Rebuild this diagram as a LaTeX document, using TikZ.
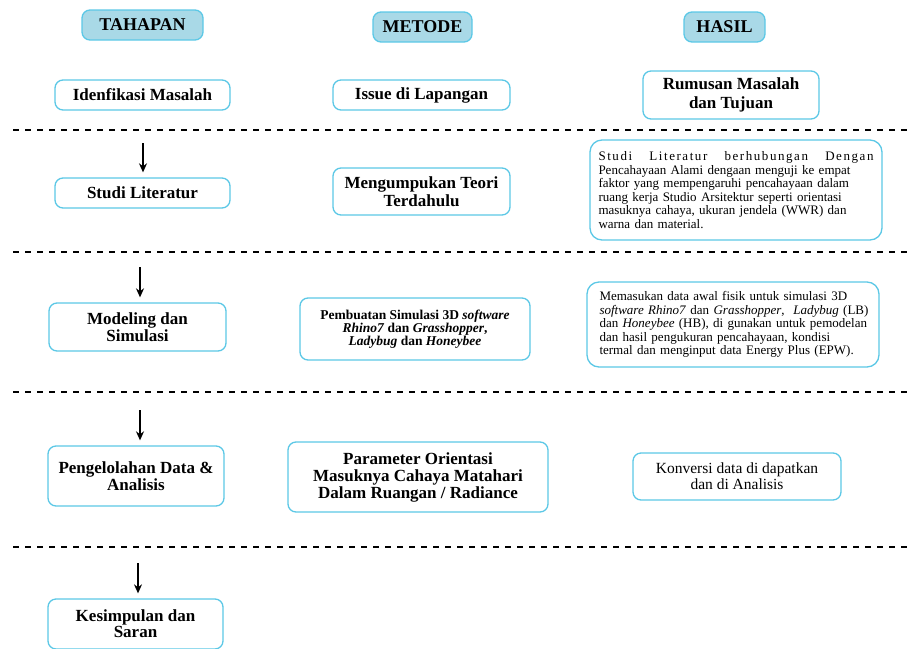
\documentclass[tikz,border=0pt]{standalone}
\usepackage{fontspec}
\setmainfont{Liberation Serif}
\usetikzlibrary{arrows.meta}
\definecolor{bord}{HTML}{5CC8E6}
\definecolor{headfill}{HTML}{A9D9E7}
\newcommand{\jline}[2]{\makebox[#1][s]{#2}}
\begin{document}
\begin{tikzpicture}[x=1pt,y=-1pt,
 box/.style={draw=bord, line width=1.3pt, rounded corners=8pt, fill=white, align=center, inner sep=0pt, font=\bfseries\fontsize{17}{17.5}\selectfont},
 head/.style={box, fill=headfill, font=\bfseries\fontsize{18}{20}\selectfont},
 txtbox/.style={draw=bord, line width=1.3pt, rounded corners=12pt, fill=white, align=left, inner ysep=0pt, font=\fontsize{13}{13.6}\selectfont},
 sepline/.style={dash pattern=on 6pt off 6pt, line width=1.8pt},
 arr/.style={-{Stealth[length=9pt,width=8pt]}, line width=1.3pt, shorten >=5pt},
]
\useasboundingbox (0,0) rectangle (907,648);
% headers
\node[head, minimum width=121, minimum height=30] (h1) at (142.5,25) {TAHAPAN};
\node[head, minimum width=99, minimum height=30] (h2) at (422.5,27) {METODE};
\node[head, minimum width=81, minimum height=30] (h3) at (724.5,27) {HASIL};
% row 1
\node[box, minimum width=175, minimum height=30] (n11) at (142.5,95) {Idenfikasi Masalah};
\node[box, minimum width=177, minimum height=30] (n12) at (421.5,95) {Issue di Lapangan};
\node[box, minimum width=176, minimum height=48, font=\bfseries\fontsize{17}{18.5}\selectfont] (n13) at (731,95) {Rumusan Masalah\\dan Tujuan};
\coordinate (s1a) at (13,130); \coordinate (s1b) at (907,130);
\draw[sepline] (s1a) -- (s1b);
% row 2
\node[box, minimum width=175, minimum height=30] (n21) at (142.5,193) {Studi Literatur};
\node[box, minimum width=177, minimum height=47] (n22) at (421.5,191.5) {Mengumpukan Teori\\Terdahulu};
\node[txtbox, text width=275pt, inner xsep=8.5pt, minimum height=100] (n23) at (736,190) {%
\jline{275pt}{\addfontfeatures{LetterSpace=12}Studi\hfill Literatur\hfill berhubungan\hfill Dengan}\\
\jline{275pt}{Pencahayaan Alami dengaan menguji ke empat}\\
\jline{275pt}{faktor yang mempengaruhi pencahayaan dalam}\\
\jline{275pt}{ruang kerja Studio Arsitektur seperti orientasi}\\
\jline{275pt}{masuknya cahaya, ukuran jendela (WWR) dan}\\
warna dan material.};
\coordinate (a1) at (143,143);
\draw[arr] (a1) -- (a1 |- n21.north);
\coordinate (s2a) at (13,252); \coordinate (s2b) at (907,252);
\draw[sepline] (s2a) -- (s2b);
% row 3
\node[box, minimum width=177, minimum height=48] (n31) at (137.5,327) {Modeling dan\\Simulasi};
\node[box, minimum width=230, minimum height=62, font=\bfseries\fontsize{13.5}{13}\selectfont] (n32) at (415,329) {Pembuatan Simulasi 3D \textit{software}\\\textit{Rhino7} dan \textit{Grasshopper},\\\textit{Ladybug} dan \textit{Honeybee}};
\node[txtbox, text width=267pt, inner xsep=12.5pt, minimum height=85] (n33) at (733,324.5) {%
\jline{267pt}{Memasukan data awal fisik untuk simulasi 3D}\\
\jline{267pt}{\textit{software Rhino7} dan \textit{Grasshopper}, \ \textit{Ladybug} (LB)}\\
\jline{267pt}{dan \textit{Honeybee} (HB), di gunakan untuk pemodelan}\\
\jline{267pt}{dan hasil pengukuran pencahayaan, kondisi}\\
termal dan menginput data Energy Plus (EPW).};
\coordinate (a2) at (140,267);
\draw[arr] (a2) -- (a2 |- n31.north);
\coordinate (s3a) at (13,392); \coordinate (s3b) at (907,392);
\draw[sepline] (s3a) -- (s3b);
% row 4
\node[box, minimum width=176, minimum height=60, font=\bfseries\fontsize{17}{16.5}\selectfont] (n41) at (136,476) {Pengelolahan Data \&\\Analisis};
\node[box, minimum width=260, minimum height=70, font=\bfseries\fontsize{17}{17}\selectfont] (n42) at (418,477) {Parameter Orientasi\\Masuknya Cahaya Matahari\\Dalam Ruangan / Radiance};
\node[box, minimum width=208, minimum height=47, font=\fontsize{15.5}{16}\selectfont] (n43) at (737,476.5) {Konversi data di dapatkan\\dan di Analisis};
\coordinate (a3) at (140,410);
\draw[arr] (a3) -- (a3 |- n41.north);
\coordinate (s4a) at (13,547); \coordinate (s4b) at (907,547);
\draw[sepline] (s4a) -- (s4b);
% row 5
\node[box, minimum width=175, minimum height=50, font=\bfseries\fontsize{17}{14.5}\selectfont] (n51) at (135.5,624) {Kesimpulan dan\\Saran};
\coordinate (a4) at (138,563);
\draw[arr] (a4) -- (a4 |- n51.north);
\end{tikzpicture}
\end{document}
